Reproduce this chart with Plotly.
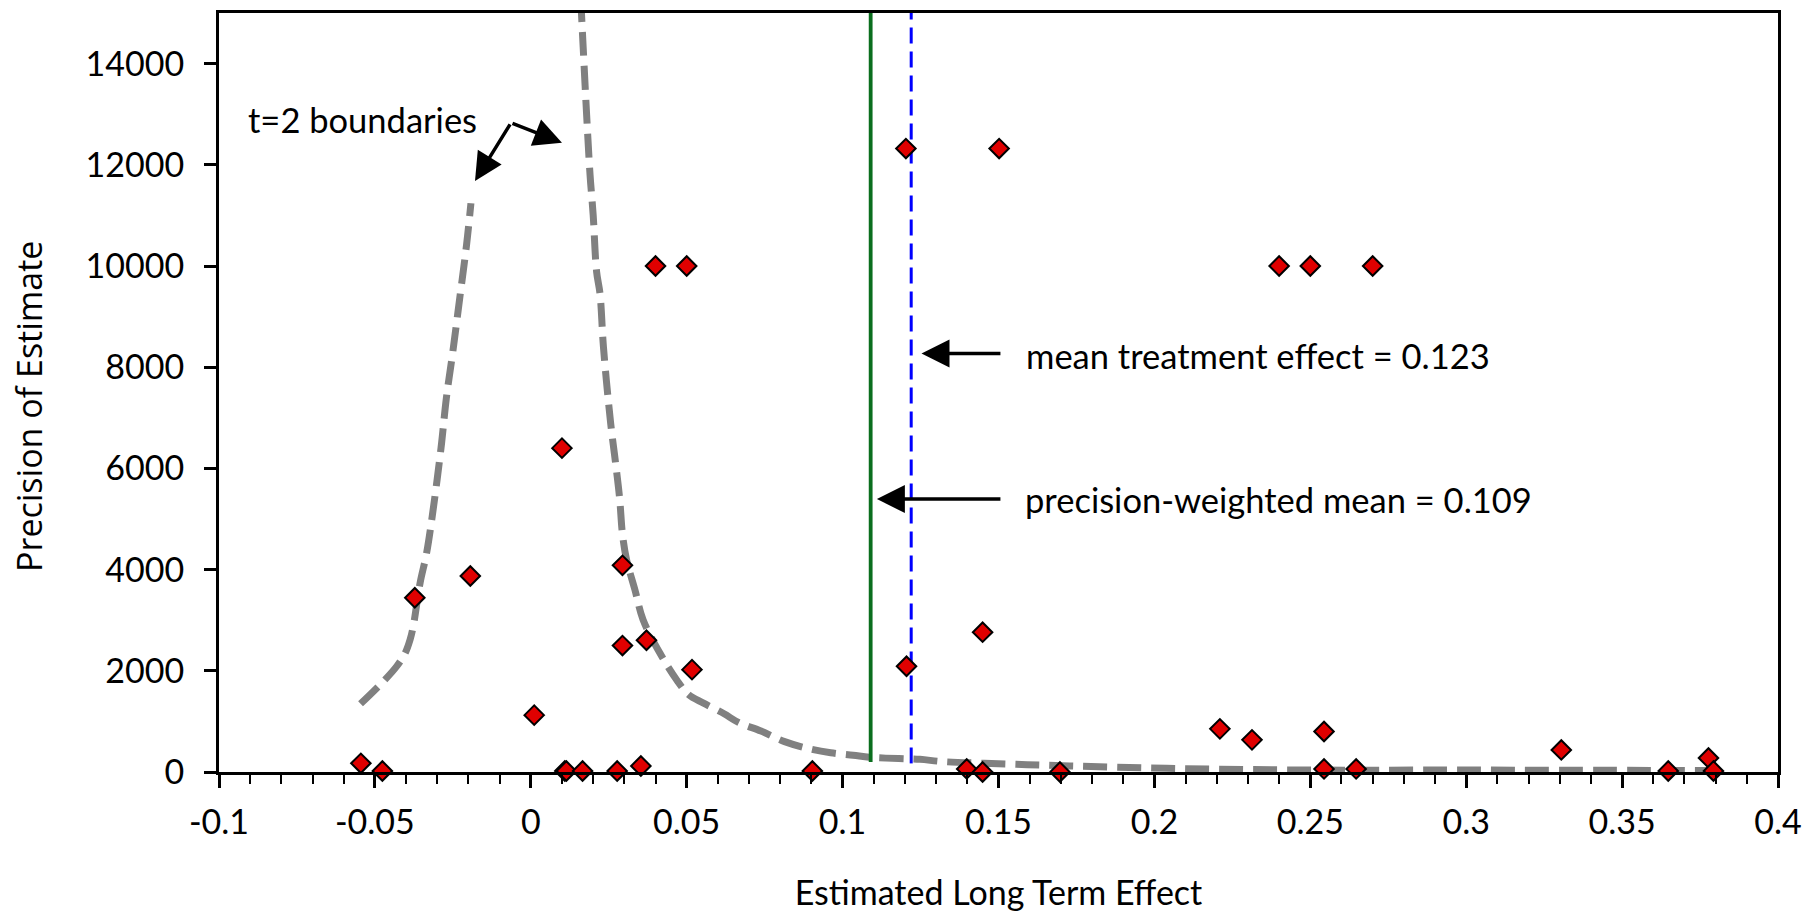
import plotly.graph_objects as go

# ---- study estimates (x = estimated long term effect, y = precision) ----
est_x = [-0.0545, -0.0476, -0.0372, -0.0194, 0.0011, 0.0100, 0.0109, 0.0114, 0.0166,
         0.0277, 0.0294, 0.0294, 0.0353, 0.0371, 0.0400, 0.0500, 0.0517, 0.0903,
         0.1203, 0.1205, 0.1502, 0.1398, 0.1449, 0.1449, 0.1697, 0.2210, 0.2313,
         0.2544, 0.2544, 0.2647, 0.2400, 0.2500, 0.2700, 0.3305, 0.3648, 0.3777, 0.3793]
est_y = [172, 20, 3444, 3873, 1124, 6400, 20, 20, 20,
         20, 4085, 2499, 119, 2604, 10000, 10000, 2023, 20,
         12321, 2090, 12321, 60, 2763, 0, 0, 853, 635,
         800, 60, 60, 10000, 10000, 10000, 436, 20, 278, 20]

# ---- t=2 boundary curves ----
left_x = [-0.0546, -0.0473, -0.0430, -0.0403, -0.0387, -0.0377, -0.0355, -0.0335,
          -0.0316, -0.0288, -0.0271, -0.0250, -0.0228, -0.0206, -0.0192]
left_y = [1348, 1790, 2090, 2350, 2620, 2880, 3740, 4300,
          5060, 6400, 7380, 8310, 9360, 10420, 11240]
right_x = [0.0160, 0.0168, 0.0179, 0.0190, 0.0200, 0.0211, 0.0222, 0.0233, 0.0256,
           0.0272, 0.0285, 0.0294, 0.0307, 0.0334, 0.0360, 0.0414, 0.0468, 0.0506,
           0.0554, 0.0620, 0.0666, 0.0738, 0.0814, 0.0886, 0.0962, 0.1034, 0.1090,
           0.1180, 0.1248, 0.1323, 0.1526, 0.1729, 0.2039, 0.2445, 0.3000, 0.3770]
right_y = [15300, 14320, 12995, 11805, 11012, 9889, 9450, 8400, 6900,
           6100, 5400, 4700, 4200, 3600, 3010, 2350, 1820, 1530,
           1360, 1150, 980, 810, 600, 470, 380, 330, 290,
           265, 250, 205, 159, 119, 73, 40, 38, 30]

# ---- reference lines ----
pw_mean = 0.109
pw_y = [200, 15000]
mean_te = 0.122
mt_y = [170, 15000]

x_ticks = [-0.1, -0.05, 0, 0.05, 0.1, 0.15, 0.2, 0.25, 0.3, 0.35, 0.4]
x_ticktext = ["-0.1", "-0.05", "0", "0.05", "0.1", "0.15", "0.2", "0.25", "0.3", "0.35", "0.4"]
y_ticks = [0, 2000, 4000, 6000, 8000, 10000, 12000, 14000]
y_ticktext = ["0", "2000", "4000", "6000", "8000", "10000", "12000", "14000"]

FONT = "Lato"
FS = 34
FS_ANN = 34.5
GRAY = "#808080"

fig = go.Figure()

for cx, cy in ((left_x, left_y), (right_x, right_y)):
    fig.add_trace(go.Scatter(x=cx, y=cy, mode="lines", line_shape="spline",
                             line=dict(color=GRAY, width=7, dash="24px,10px"),
                             hoverinfo="skip", showlegend=False))

fig.add_trace(go.Scatter(x=[pw_mean, pw_mean], y=pw_y, mode="lines",
                         line=dict(color="#0A6E1E", width=3.8), showlegend=False))
fig.add_trace(go.Scatter(x=[mean_te, mean_te], y=mt_y, mode="lines",
                         line=dict(color="#0000FF", width=3, dash="16px,8px"), showlegend=False))

fig.add_trace(go.Scatter(x=est_x, y=est_y, mode="markers", cliponaxis=False,
                         marker=dict(symbol="diamond", size=15, color="#E00000",
                                     line=dict(color="black", width=2)),
                         showlegend=False))

# annotations: text and arrows
def arrow(x, y, ax, ay):
    fig.add_annotation(x=x, y=y, ax=ax, ay=ay, xref="x", yref="y", axref="x", ayref="y",
                       text="", showarrow=True, arrowhead=2, arrowsize=1.6,
                       arrowwidth=3.5, arrowcolor="black")

arrow(0.1253, 8270, 0.1511, 8270)
arrow(0.1110, 5394, 0.1511, 5394)
arrow(-0.0179, 11680, -0.00635, 12830)
arrow(0.0100, 12434, -0.00635, 12830)

fig.add_annotation(x=0.1582, y=8230, xref="x", yref="y", text="mean treatment effect = 0.123",
                   showarrow=False, xanchor="left", yanchor="middle",
                   font=dict(family=FONT, size=FS_ANN, color="black"))
fig.add_annotation(x=0.1579, y=5394, xref="x", yref="y", text="precision-weighted mean = 0.109",
                   showarrow=False, xanchor="left", yanchor="middle",
                   font=dict(family=FONT, size=FS_ANN, color="black"))
fig.add_annotation(x=-0.0541, y=12890, xref="x", yref="y", text="t=2 boundaries",
                   showarrow=False, xanchor="center", yanchor="middle",
                   font=dict(family=FONT, size=FS_ANN, color="black"))

# y axis title (placed as rotated text, slightly below the plot centre as in the original)
fig.add_annotation(x=-0.122, y=0.482, xref="paper", yref="paper", text="Precision of Estimate",
                   textangle=-90, showarrow=False, xanchor="center", yanchor="middle",
                   font=dict(family="Open Sans", size=34, color="black"))

fig.update_layout(
    width=1806, height=912, autosize=False,
    margin=dict(l=219, r=28, t=13, b=140, autoexpand=False),
    paper_bgcolor="white", plot_bgcolor="white",
    font=dict(family=FONT, size=FS, color="black"),
    xaxis=dict(range=[-0.1, 0.4], tickvals=x_ticks, ticktext=x_ticktext,
               showgrid=False, zeroline=False, showline=True, linecolor="black",
               linewidth=3, mirror=True, ticks="outside", ticklen=13, tickwidth=2.5,
               tickcolor="black", ticklabelstandoff=5, automargin=False,
               minor=dict(tick0=-0.1, dtick=0.01, ticks="outside", ticklen=9,
                          tickwidth=2, tickcolor="black", showgrid=False),
               title=dict(text="Estimated Long Term Effect", standoff=42,
                          font=dict(family=FONT, size=FS))),
    yaxis=dict(range=[0, 15000], tickvals=y_ticks, ticktext=y_ticktext,
               showgrid=False, zeroline=False, showline=True, linecolor="black",
               linewidth=3, mirror=True, ticks="outside", ticklen=12, tickwidth=2.5,
               tickcolor="black", ticklabelstandoff=13, automargin=False),
)

fig.write_html("out.html", config={"displayModeBar": False},
               post_script="document.body.style.margin='0px';")
